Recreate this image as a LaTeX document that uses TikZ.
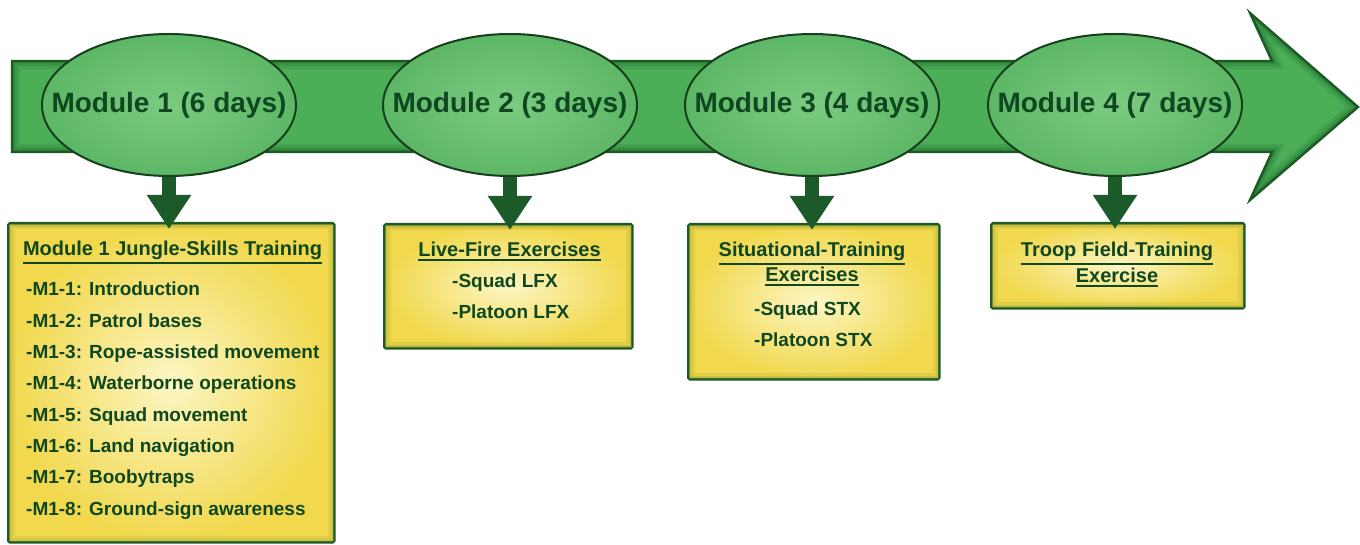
\documentclass[tikz,border=0pt]{standalone}
\usepackage{fontspec}
\setmainfont{Liberation Sans}
\usetikzlibrary{arrows.meta,calc,shapes.geometric}

\definecolor{bandmid}{HTML}{4CAF58}
\definecolor{bandline}{HTML}{1B5A25}
\definecolor{bandshade}{HTML}{1F6B2B}
\definecolor{ovalin}{HTML}{7CCB82}
\definecolor{ovalout}{HTML}{5DB766}
\definecolor{ovalline}{HTML}{163F1C}
\definecolor{txtgreen}{HTML}{0F4820}
\definecolor{boxin}{HTML}{FCF6C4}
\definecolor{boxout}{HTML}{F1D84C}
\definecolor{boxline}{HTML}{1E5A27}
\definecolor{boxedge}{HTML}{8A9A30}
\definecolor{connfill}{HTML}{1D5A29}

% underline set a little below the text's own depth
\newcommand\ulbar[1]{\setbox0=\hbox{#1}\leavevmode\rlap{\copy0}\vrule width\wd0 height\dimexpr-\dp0-1.5pt\relax depth\dimexpr\dp0+3.5pt\relax}

% outline of the timeline band and its arrow head
\def\bandpath{(12,483) -- (1272,483) -- (1250,531) -- (1358,437) -- (1250,344) -- (1272,392) -- (12,392) -- cycle}

\tikzset{
  module/.style={ellipse, draw=ovalline, line width=2pt, inner color=ovalin, outer color=ovalout,
    minimum width=254pt, minimum height=142pt, inner xsep=-60pt, inner ysep=0pt,
    font=\fontsize{28}{30}\selectfont\bfseries, text=txtgreen},
  taskbox/.style={rectangle, draw=boxline, line width=2.6pt, rounded corners=1.5pt,
    inner color=boxin, outer color=boxout, anchor=north west, inner sep=0pt},
  boxtitle/.style={anchor=base, inner sep=0pt, text=txtgreen, font=\fontsize{20}{22}\selectfont\bfseries},
  boxitem/.style={anchor=base west, inner sep=0pt, text=txtgreen, font=\fontsize{19}{21}\selectfont\bfseries},
  conn/.style={draw=connfill, line width=14pt, shorten >=-7pt,
    -{Triangle[length=34pt,width=42pt]}}
}

\begin{document}
\begin{tikzpicture}[x=1pt,y=1pt]
\useasboundingbox (0,0) rectangle (1360,544);

% timeline band with its arrow head, bevelled inside its outline
\fill[bandmid] \bandpath;
\begin{scope}
  \clip \bandpath;
  \draw[bandshade, line width=16pt, opacity=0.18, line join=miter] \bandpath;
  \draw[bandshade, line width=10pt, opacity=0.25, line join=miter] \bandpath;
  \draw[bandshade, line width=5pt, opacity=0.35, line join=miter] \bandpath;
\end{scope}
\draw[bandline, line width=2.4pt, line join=miter] \bandpath;

% task boxes
\node[taskbox, minimum width=326pt, minimum height=319pt] (b1) at (7,322) {};
\node[taskbox, minimum width=248pt, minimum height=124pt] (b2) at (383,321) {};
\node[taskbox, minimum width=251pt, minimum height=155pt] (b3) at (687,321) {};
\node[taskbox, minimum width=253pt, minimum height=85pt]  (b4) at (990,322) {};

% soft inner edge of each box
\foreach \b in {b1,b2,b3,b4}{
  \draw[boxedge, line width=3pt, opacity=0.35]
    ($(\b.south west)+(3.2,3.2)$) rectangle ($(\b.north east)+(-3.2,-3.2)$);
  \draw[boxedge, line width=3pt, opacity=0.15]
    ($(\b.south west)+(6,6)$) rectangle ($(\b.north east)+(-6,-6)$);
}

% module ovals on the band
\node[module] (e1) at (169,439) {Module 1 (6 days)};
\node[module] (e2) at (510,439) {Module 2 (3 days)};
\node[module] (e3) at (812,439) {Module 3 (4 days)};
\node[module] (e4) at (1115,439) {Module 4 (7 days)};

% connectors from each module to its box
\draw[conn] (e1.south) -- (e1.south |- b1.north);
\draw[conn] (e2.south) -- (e2.south |- b2.north);
\draw[conn] (e3.south) -- (e3.south |- b3.north);
\draw[conn] (e4.south) -- (e4.south |- b4.north);

% Module 1 contents
\node[boxtitle] (t1) at (172.5,288) {\ulbar{Module 1 Jungle-Skills Training}};
\node[boxitem] (m1) at (26,248.0) {-M1-1: Introduction};
\node[boxitem] (m2) at (26,216.7) {-M1-2: Patrol bases};
\node[boxitem] (m3) at (26,185.4) {-M1-3: Rope-assisted movement};
\node[boxitem] (m4) at (26,154.1) {-M1-4: Waterborne operations};
\node[boxitem] (m5) at (26,122.8) {-M1-5: Squad movement};
\node[boxitem] (m6) at (26,91.5)  {-M1-6: Land navigation};
\node[boxitem] (m7) at (26,60.2)  {-M1-7: Boobytraps};
\node[boxitem] (m8) at (26,28.9)  {-M1-8: Ground-sign awareness};

% Module 2 contents
\node[boxtitle] (t2) at (509.5,287) {\ulbar{Live-Fire Exercises}};
\node[boxitem] (l1) at (452,256) {-Squad LFX};
\node[boxitem] (l2) at (452,225) {-Platoon LFX};

% Module 3 contents
\node[boxtitle] (t3a) at (812,287) {\ulbar{Situational-Training}};
\node[boxtitle] (t3b) at (812,262) {\ulbar{Exercises}};
\node[boxitem] (s1) at (754,228) {-Squad STX};
\node[boxitem] (s2) at (754,197) {-Platoon STX};

% Module 4 contents
\node[boxtitle] (t4a) at (1117,287) {\ulbar{Troop Field-Training}};
\node[boxtitle] (t4b) at (1117,261) {\ulbar{Exercise}};
\end{tikzpicture}
\end{document}
